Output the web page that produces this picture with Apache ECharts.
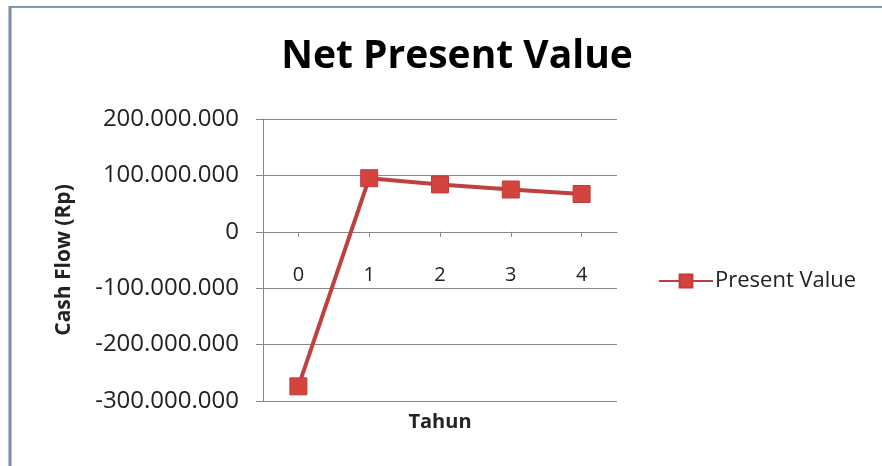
<!DOCTYPE html>
<html>
<head>
<meta charset="utf-8">
<script src="https://cdn.jsdelivr.net/npm/echarts@6/dist/echarts.min.js"></script>
<style>
html,body{margin:0;padding:0;background:#fff;}
#c{width:882px;height:466px;}
</style>
</head>
<body>
<div id="c"></div>
<script>
var categories = ['0', '1', '2', '3', '4'];
var presentValue = [-274000000, 95000000, 84000000, 75000000, 67000000];
var seriesName = 'Present Value';
var titleText = 'Net Present Value';
var yAxisName = 'Cash Flow (Rp)';
var xAxisName = 'Tahun';

function fmt(v) {
  var s = Math.abs(v).toString().replace(/\B(?=(\d{3})+(?!\d))/g, '.');
  return (v < 0 ? '-' : '') + s;
}

var chart = echarts.init(document.getElementById('c'));
var FONT = '"Open Sans", sans-serif';
chart.setOption({
  backgroundColor: '#ffffff',
  animation: false,
  title: {
    text: titleText,
    left: 452, top: 32,
    textAlign: 'center',
    textStyle: { fontFamily: FONT, fontSize: 39, fontWeight: 'bold', color: '#000' }
  },
  graphic: [
    { type: 'line', shape: { x1: 9, y1: 7, x2: 882, y2: 7 }, style: { stroke: '#8595B0', lineWidth: 2 } },
    { type: 'line', shape: { x1: 10, y1: 6, x2: 10, y2: 466 }, style: { stroke: '#7A8CA8', lineWidth: 3 } }
  ],
  legend: {
    data: [seriesName],
    left: 653, top: 265,
    itemWidth: 54, itemHeight: 16,
    itemGap: 4,
    textStyle: { fontFamily: FONT, fontSize: 22, color: '#222', padding: [0, 0, 0, -3] }
  },
  grid: { left: 263, right: 265, top: 119, bottom: 65, containLabel: false, outerBoundsMode: 'none' },
  xAxis: {
    type: 'category',
    data: categories,
    boundaryGap: true,
    name: xAxisName,
    nameLocation: 'middle',
    nameGap: 11,
    nameTextStyle: { fontFamily: FONT, fontSize: 20, fontWeight: 'bold', color: '#222' },
    axisLine: { onZero: true, lineStyle: { color: '#868686', width: 1 } },
    axisTick: { show: true, alignWithLabel: true, length: 5, lineStyle: { color: '#868686' } },
    axisLabel: { margin: -136, fontFamily: FONT, fontSize: 20, color: '#222' },
    splitLine: { show: false }
  },
  yAxis: {
    type: 'value',
    min: -300000000, max: 200000000, interval: 100000000,
    name: yAxisName,
    nameLocation: 'middle',
    nameGap: 188,
    nameTextStyle: { fontFamily: FONT, fontSize: 21, fontWeight: 'bold', color: '#222' },
    axisLine: { show: true, lineStyle: { color: '#868686', width: 1 } },
    axisTick: { show: true, length: 7, lineStyle: { color: '#868686' } },
    axisLabel: { margin: 24, fontFamily: FONT, fontSize: 24, color: '#222', formatter: fmt },
    splitLine: { show: true, lineStyle: { color: '#8a8a8a', width: 1 } }
  },
  series: [{
    name: seriesName,
    type: 'line',
    data: presentValue,
    symbol: 'rect',
    symbolSize: 17,
    lineStyle: { color: '#BE4040', width: 4 },
    itemStyle: { color: '#D4443F', borderColor: '#C03A38', borderWidth: 1 }
  }]
});
</script>
</body>
</html>
